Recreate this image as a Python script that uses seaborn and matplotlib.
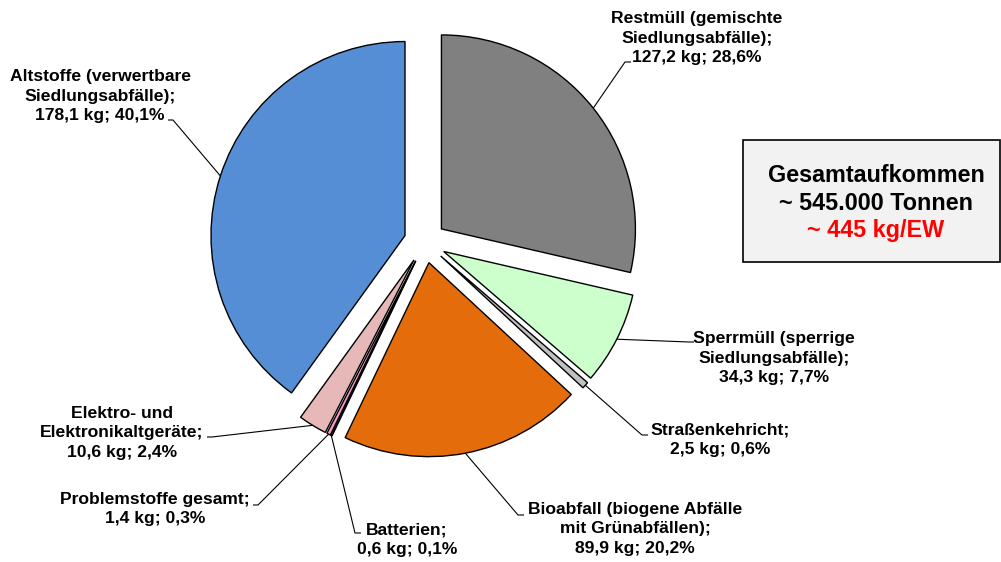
import numpy as np
import matplotlib
matplotlib.use("Agg")
import matplotlib.pyplot as plt
import seaborn as sns
from matplotlib.patches import Rectangle

sns.set_style("white")
plt.rcParams['font.family'] = ['Liberation Sans', 'DejaVu Sans']
plt.rcParams['text.color'] = 'black'

# ---- data ----
categories = [
    "Restmüll (gemischte\nSiedlungsabfälle);",
    "Sperrmüll (sperrige\nSiedlungsabfälle);",
    "Straßenkehricht;",
    "Bioabfall (biogene Abfälle\nmit Grünabfällen);",
    "Batterien;",
    "Problemstoffe gesamt;",
    "Elektro- und\nElektronikaltgeräte;",
    "Altstoffe (verwertbare\nSiedlungsabfälle);",
]
kg_values = [127.2, 34.3, 2.5, 89.9, 0.6, 1.4, 10.6, 178.1]
pct_labels = ["28,6%", "7,7%", "0,6%", "20,2%", "0,1%", "0,3%", "2,4%", "40,1%"]
colors = ["#808080", "#CCFFCC", "#C0C0C0", "#E46C0A", "#595959", "#FF99CC", "#E6B9B8", "#558ED5"]
box_lines = ["Gesamtaufkommen", "~ 545.000 Tonnen", "~ 445 kg/EW"]

W, H = 1001, 562
fig = plt.figure(figsize=(W / 100, H / 100), dpi=100)
ax = fig.add_axes([0, 0, 1, 1])

def P(x, y):
    return (x, H - y)

cx, cy = P(425, 242)
R = 194
explode = 21
wedges, _ = ax.pie(kg_values, colors=colors, startangle=90, counterclock=False,
                   radius=R, center=(cx, cy), explode=[explode] * len(kg_values),
                   wedgeprops=dict(edgecolor="black", linewidth=1.0),
                   frame=True)
ax.set_xlim(0, W)
ax.set_ylim(0, H)
ax.set_aspect("equal")
ax.set_axis_off()

# label layout (pixel positions): text center, text-side end, elbow point
label_pos = [
    (697, 38, 631, 62, 625, 62),
    (774, 358, 694, 342, 689, 342),
    (720, 440, 648, 435, 642, 435),
    (635, 529, 524, 515, 518, 515),
    (407, 540, 361, 533, 355, 533),
    (155, 509, 253, 505, 258, 505),
    (122, 433, 207, 437, 212, 437),
    (100, 96, 168, 120, 173, 120),
]

fontsize = 12.6
for w, cat, kg, pct, lp in zip(wedges, categories, kg_values, pct_labels, label_pos):
    tx, ty, ex, ey, ex2, ey2 = lp
    ang = np.deg2rad((w.theta1 + w.theta2) / 2)
    wc = w.center
    a_pt = (wc[0] + R * np.cos(ang), wc[1] + R * np.sin(ang))
    e1 = P(ex, ey)
    e2 = P(ex2, ey2)
    ax.plot([a_pt[0], e2[0], e1[0]], [a_pt[1], e2[1], e1[1]], color="black", lw=0.8,
            solid_capstyle="butt")
    txt = f"{cat}\n{kg:.1f}".replace(".", ",") + f" kg; {pct}"
    ax.text(*P(tx, ty), txt, ha="center", va="center", fontsize=fontsize,
            fontweight="bold", linespacing=1.37, color="black")

# total box
bx0, by0, bx1, by1 = 743, 140, 1000, 262
ax.add_patch(Rectangle(P(bx0, by1), bx1 - bx0, by1 - by0, facecolor="#F2F2F2",
                       edgecolor="black", linewidth=1.2))
for line, yy, col in zip(box_lines, [176, 203, 230], ["black", "black", "#FF0000"]):
    ax.text(*P(876, yy), line, ha="center", va="center", fontsize=16.8,
            fontweight="bold", color=col)

fig.savefig("out.png", dpi=100)
